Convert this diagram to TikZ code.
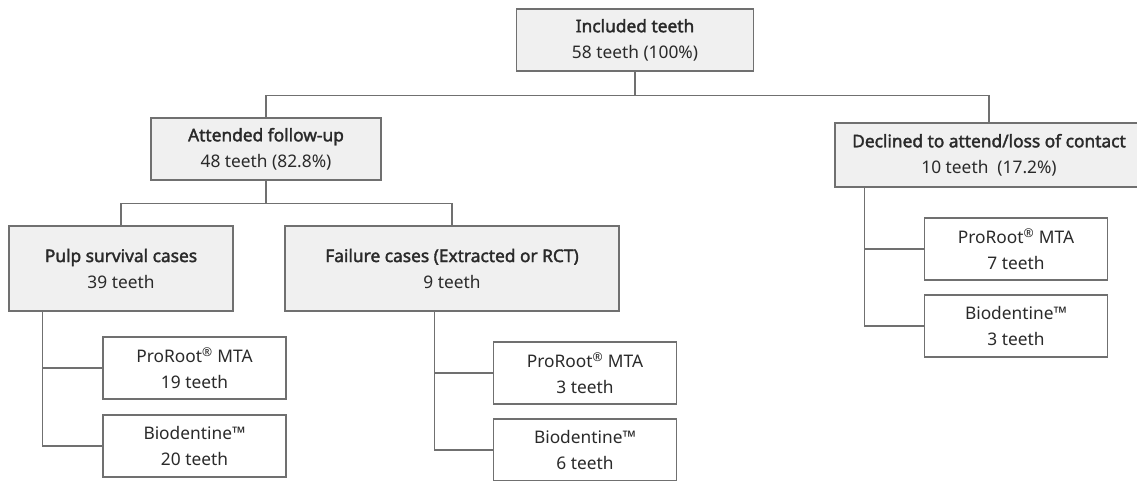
\documentclass[tikz,border=0pt]{standalone}
\usepackage{fontspec}
\setmainfont{Noto Sans}
\newfontfamily\headfont[FakeBold=2]{Noto Sans}
\definecolor{linegray}{HTML}{707070}
\definecolor{boxgray}{HTML}{F0F0F0}
\definecolor{textgray}{HTML}{2A2A2A}

\begin{document}
\begin{tikzpicture}[x=0.75pt,y=-0.75pt,
  every node/.style={font=\fontsize{13}{19.5}\selectfont, text=textgray},
  greybox/.style={draw=linegray, fill=boxgray, line width=0.8pt, align=center, inner sep=0pt},
  leafbox/.style={greybox, fill=white, minimum width=137.25pt, minimum height=46.5pt}]

\useasboundingbox (0,0) rectangle (1137,480);
\clip (0,0) rectangle (1137,480);

\node [greybox, minimum width=177.75pt, minimum height=46.5pt] (inc) at (635,40) {{\headfont Included teeth}\\58 teeth (100\%)};

\node [greybox, minimum width=172.5pt, minimum height=46.5pt] (att) at (266,149) {{\headfont Attended follow-up}\\48 teeth (82.8\%)};
\node [greybox, minimum width=231pt, minimum height=48pt] (dec) at (989,155) {{\headfont Declined to attend/loss of contact}\\10 teeth\ \ (17.2\%)};

\node [greybox, minimum width=168pt, minimum height=63.75pt] (pulp) at (121,268.5) {{\headfont Pulp survival cases}\\39 teeth};
\node [greybox, minimum width=250.5pt, minimum height=63.75pt] (fail) at (452,268.5) {{\headfont Failure cases (Extracted or RCT)}\\9 teeth};

\node [leafbox] (pm) at (194.5,368) {ProRoot\textsuperscript{®} MTA\\19 teeth};
\node [leafbox] (pb) at (194.5,446) {Biodentine™\\20 teeth};
\node [leafbox] (fm) at (585,373) {ProRoot\textsuperscript{®} MTA\\3 teeth};
\node [leafbox] (fb) at (585,450) {Biodentine™\\6 teeth};
\node [leafbox] (dm) at (1016,249) {ProRoot\textsuperscript{®} MTA\\7 teeth};
\node [leafbox] (db) at (1016,326) {Biodentine™\\3 teeth};

% connectors
\draw[linegray, line width=0.8pt] (inc.south) -- ++(0,24) -| (att.north);
\draw[linegray, line width=0.8pt] (inc.south) -- ++(0,24) -| (dec.north);
\draw[linegray, line width=0.8pt] (att.south) -- ++(0,23) -| (pulp.north);
\draw[linegray, line width=0.8pt] (att.south) -- ++(0,23) -| (fail.north);

\draw[linegray, line width=0.8pt] (pulp.south west) ++(34,0) |- (pm.west);
\draw[linegray, line width=0.8pt] (pulp.south west) ++(34,0) |- (pb.west);
\draw[linegray, line width=0.8pt] (fail.south west) ++(150,0) |- (fm.west);
\draw[linegray, line width=0.8pt] (fail.south west) ++(150,0) |- (fb.west);
\draw[linegray, line width=0.8pt] (dec.south west) ++(30,0) |- (dm.west);
\draw[linegray, line width=0.8pt] (dec.south west) ++(30,0) |- (db.west);

\end{tikzpicture}
\end{document}
